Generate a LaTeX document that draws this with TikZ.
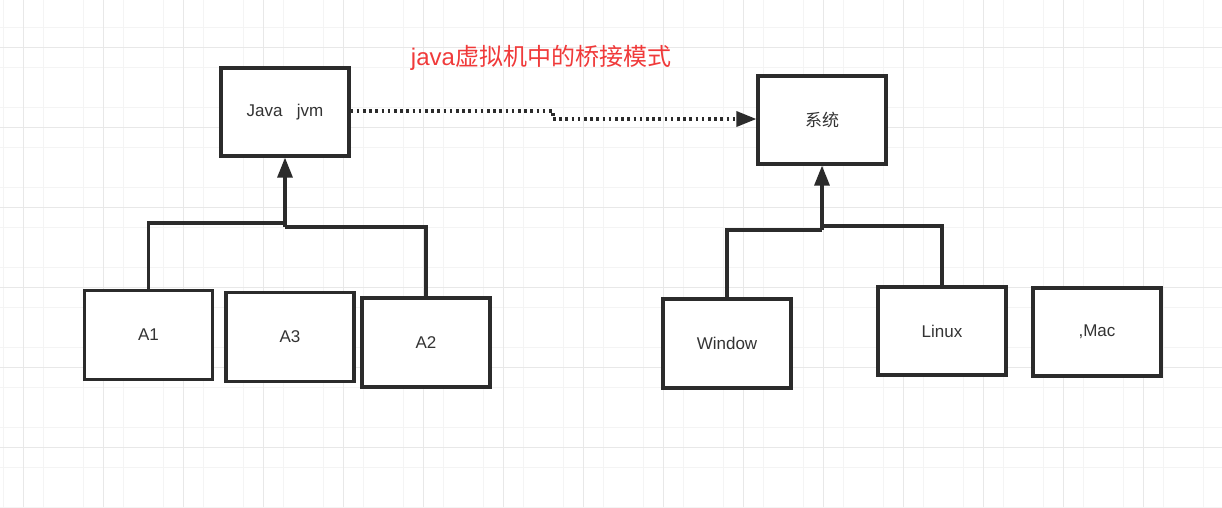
\documentclass[tikz,border=0pt]{standalone}
\usepackage{fontspec}
\setmainfont{Liberation Sans}
\newfontfamily\cjk{Noto Sans CJK SC}
\usetikzlibrary{arrows.meta}
\definecolor{ink}{HTML}{2B2B2B}
\definecolor{txt}{HTML}{333333}
\definecolor{titlered}{HTML}{F03A3A}
\definecolor{gridc}{HTML}{E8E8E8}
\definecolor{gridf}{HTML}{F4F4F4}
\begin{document}
\begin{tikzpicture}[x=1pt,y=-1pt,
  box/.style={draw=ink,line width=3.2pt,fill=white,minimum width=128pt,minimum height=88pt,inner sep=0pt,font=\fontsize{17}{20}\selectfont,text=txt},
  link/.style={draw=ink,line width=3.2pt},
  tip/.style={-{Triangle[length=20pt,width=15pt]}},
  dotline/.style={draw=ink,line width=3.4pt,dash pattern=on 2.6pt off 3.6pt}]
\useasboundingbox (0,0) rectangle (1222,507);
\fill[white] (0,0) rectangle (1222,507);
% faint grid
\foreach \x in {3,43,...,1222} \draw[gridf,line width=0.8pt] (\x,0) -- (\x,507);
\foreach \y in {27,67,...,507} \draw[gridf,line width=0.8pt] (0,\y) -- (1222,\y);
\foreach \x in {23,103,...,1222} \draw[gridc,line width=1pt] (\x,0) -- (\x,507);
\foreach \y in {47,127,...,507} \draw[gridc,line width=1pt] (0,\y) -- (1222,\y);

% title
\node[text=titlered,font=\fontsize{24}{27}\selectfont,inner sep=0pt] (title) at (541,58) {java{\cjk 虚拟机中的桥接模式}};

% nodes
\node[box] (jvm) at (285,112) {Java\ \ \ jvm};
\node[box] (sys) at (822,120) {\cjk 系统};
\node[box,minimum height=89pt] (a1) at (148.5,335) {A1};
\node[box,minimum height=89pt] (a3) at (290,337) {A3};
\node[box,minimum height=89pt] (a2) at (426,342.5) {A2};
\node[box,minimum height=89pt] (win) at (727,343.5) {Window};
\node[box] (lin) at (942,331) {Linux};
\node[box] (mac) at (1097,332) {,Mac};

% junction coordinates
\coordinate (jl) at (285,223);
\coordinate (jr) at (285,227);
\coordinate (sl) at (822,230);
\coordinate (sr) at (822,226);
\coordinate (dstep) at (553,111);

% connectors
\draw[link] (a1.north) |- (jl) -- (jr);
\draw[link] (a2.north) |- (jr);
\draw[link,tip] (jr) -- (jvm.south);
\draw[link] (win.north) |- (sl);
\draw[link] (lin.north) |- (sr);
\draw[link,tip] (sl) -- (sys.south);
\draw[dotline] (jvm.east |- dstep) -- (dstep) -- ++(0,8) coordinate (dstep2);
\draw[dotline,tip] (dstep2) -- (sys.west |- dstep2);
\end{tikzpicture}
\end{document}
